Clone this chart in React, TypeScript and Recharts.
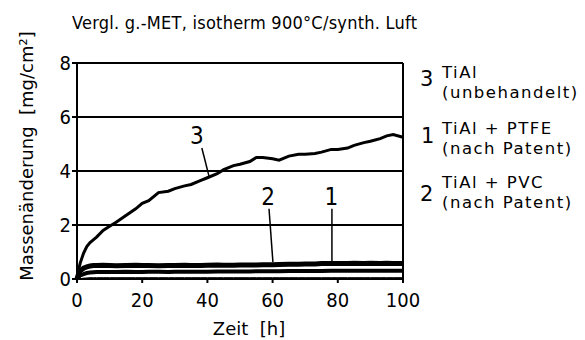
import React from 'react';
import {
  LineChart,
  Line,
  XAxis,
  YAxis,
  CartesianGrid,
  ReferenceLine,
  ReferenceDot
} from 'recharts';

// Zeit [h]
const zeit = [0, 0.5, 1, 2, 3, 4, 5, 6, 8, 10, 12, 15, 18, 20, 22, 25, 28, 30, 33, 35, 38, 40, 43, 45, 48, 50, 53, 55, 57, 60, 62, 65, 68, 70, 73, 75, 78, 80, 83, 85, 88, 90, 93, 95, 97, 100];

// 3: TiAl (unbehandelt)
const kurve3 = [0, 0.35, 0.6, 0.95, 1.2, 1.35, 1.45, 1.55, 1.8, 1.95, 2.1, 2.35, 2.6, 2.8, 2.9, 3.2, 3.25, 3.35, 3.45, 3.5, 3.65, 3.75, 3.9, 4.05, 4.2, 4.25, 4.35, 4.5, 4.5, 4.45, 4.4, 4.55, 4.62, 4.62, 4.65, 4.7, 4.8, 4.8, 4.85, 4.95, 5.05, 5.1, 5.2, 5.3, 5.35, 5.25];

// 1: TiAl + PTFE
const kurve1 = [0, 0.2, 0.3, 0.4, 0.45, 0.48, 0.5, 0.5, 0.51, 0.5, 0.49, 0.5, 0.51, 0.5, 0.5, 0.49, 0.5, 0.5, 0.51, 0.5, 0.5, 0.51, 0.52, 0.51, 0.51, 0.52, 0.52, 0.52, 0.53, 0.53, 0.54, 0.55, 0.55, 0.56, 0.56, 0.57, 0.57, 0.57, 0.57, 0.58, 0.57, 0.58, 0.57, 0.58, 0.57, 0.57];

// 2: TiAl + PVC
const kurve2 = [0, 0.08, 0.13, 0.18, 0.22, 0.24, 0.25, 0.26, 0.26, 0.26, 0.26, 0.27, 0.26, 0.26, 0.27, 0.27, 0.26, 0.27, 0.27, 0.27, 0.27, 0.27, 0.28, 0.28, 0.28, 0.28, 0.28, 0.29, 0.29, 0.29, 0.29, 0.3, 0.3, 0.3, 0.3, 0.3, 0.31, 0.31, 0.31, 0.31, 0.31, 0.31, 0.31, 0.31, 0.31, 0.31];

// duenne Linie knapp ueber 0
const grundlinie = [0, 0, 0.01, 0.03, 0.04, 0.05, 0.05, 0.05, 0.05, 0.05, 0.05, 0.05, 0.05, 0.05, 0.05, 0.05, 0.05, 0.05, 0.05, 0.05, 0.05, 0.05, 0.05, 0.05, 0.05, 0.05, 0.05, 0.05, 0.05, 0.05, 0.05, 0.05, 0.05, 0.05, 0.05, 0.05, 0.05, 0.05, 0.05, 0.05, 0.05, 0.05, 0.05, 0.05, 0.05, 0.05];

const xTicks = [0, 20, 40, 60, 80, 100];
const yTicks = [0, 2, 4, 6, 8];

const data = zeit.map((t, i) => ({
  t,
  k3: kurve3[i],
  k1: kurve1[i],
  k2: kurve2[i],
  k0: grundlinie[i]
}));

const COND = '"DejaVu Sans Condensed", "DejaVu Sans", sans-serif';
const SANS = '"DejaVu Sans", sans-serif';

const txt = (left: number, top: number, size: number, lines: string[], lh: number, spacing = 0, font = SANS) => (
  <div
    style={{
      position: 'absolute',
      left,
      top,
      fontSize: size,
      fontFamily: font,
      lineHeight: `${lh}px`,
      letterSpacing: spacing,
      whiteSpace: 'nowrap'
    }}
  >
    {lines.map((s, i) => (
      <React.Fragment key={i}>
        {i > 0 && <br />}
        {s}
      </React.Fragment>
    ))}
  </div>
);

const YLabel = () => (
  <text x={33} y={156} transform="rotate(-90 33 156)" textAnchor="middle" fontSize={18} fontFamily={SANS} fill="#000">
    Massenänderung&#160; [mg/cm²]
  </text>
);

export default function App() {
  return (
    <div style={{ position: 'absolute', left: 0, top: 0, width: 585, height: 340, background: '#fff', color: '#000' }}>
      <LineChart width={585} height={340} data={data} margin={{ top: 63, right: 182, bottom: 0, left: 0 }}>
        <CartesianGrid vertical={false} stroke="#000" strokeWidth={2} />
        <XAxis
          dataKey="t"
          type="number"
          domain={[0, 100]}
          ticks={xTicks}
          height={61}
          stroke="#000"
          strokeWidth={2}
          tickSize={4}
          tick={{ fill: '#000', fontSize: 20, fontFamily: COND, dy: 8 }}
          label={{ value: 'Zeit\u00a0 [h]', position: 'insideBottom', offset: 5, fill: '#000', fontSize: 18, fontFamily: SANS, dx: 9 }}
        />
        <YAxis
          type="number"
          domain={[0, 8]}
          ticks={yTicks}
          width={77}
          stroke="#000"
          strokeWidth={2}
          tickSize={5}
          tick={{ fill: '#000', fontSize: 20, fontFamily: COND, dx: 1 }}
          label={() => <YLabel />}
        />
        <ReferenceLine x={100} stroke="#000" strokeWidth={2} />
        <ReferenceLine y={8} stroke="#000" strokeWidth={2} />
        <Line dataKey="k0" stroke="#000" strokeWidth={1} dot={false} isAnimationActive={false} />
        <Line dataKey="k2" stroke="#000" strokeWidth={4} dot={false} isAnimationActive={false} />
        <Line dataKey="k1" stroke="#000" strokeWidth={5} dot={false} isAnimationActive={false} />
        <Line dataKey="k3" stroke="#000" strokeWidth={3} dot={false} isAnimationActive={false} />
        <ReferenceLine segment={[{ x: 38.3, y: 4.85 }, { x: 40.5, y: 3.8 }]} stroke="#000" strokeWidth={1.5} />
        <ReferenceLine segment={[{ x: 58.9, y: 2.6 }, { x: 60.1, y: 0.62 }]} stroke="#000" strokeWidth={1.5} />
        <ReferenceLine segment={[{ x: 78.2, y: 2.6 }, { x: 78.2, y: 0.63 }]} stroke="#000" strokeWidth={1.5} />
        <ReferenceDot x={36.8} y={5.3} r={0} label={{ value: '3', fill: '#000', fontSize: 24, fontFamily: COND }} />
        <ReferenceDot x={58.6} y={3.05} r={0} label={{ value: '2', fill: '#000', fontSize: 24, fontFamily: COND }} />
        <ReferenceDot x={78} y={3.05} r={0} label={{ value: '1', fill: '#000', fontSize: 24, fontFamily: COND }} />
      </LineChart>
      {txt(72, 16, 18, ['Vergl. g.-MET, isotherm 900°C/synth. Luft'], 13, 0.25, COND)}
      {txt(420, 71, 21, ['3'], 16)}
      {txt(442, 63, 16.5, ['TiAl', '(unbehandelt)'], 19.5, 1.5)}
      {txt(421, 128, 21, ['1'], 16)}
      {txt(442, 119, 16.5, ['TiAl + PTFE', '(nach Patent)'], 19.5, 1.5)}
      {txt(420, 186, 21, ['2'], 16)}
      {txt(442, 173, 16.5, ['TiAl + PVC', '(nach Patent)'], 19.5, 1.5)}
    </div>
  );
}
